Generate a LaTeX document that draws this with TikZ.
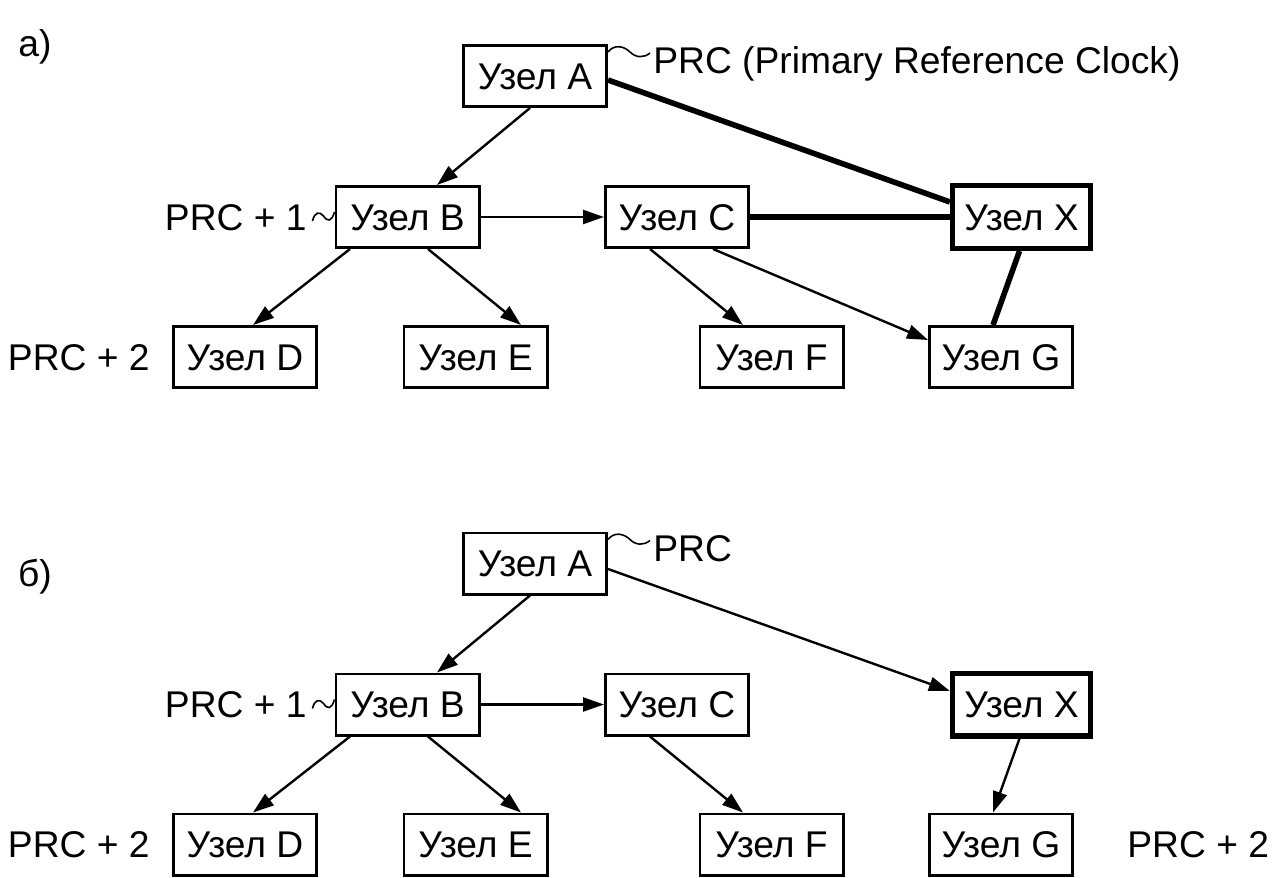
\documentclass[tikz,border=0pt]{standalone}
\usepackage{fontspec}
\setmainfont{Liberation Sans}
\usetikzlibrary{arrows.meta,calc}
\begin{document}
\begin{tikzpicture}[x=0.5pt,y=-0.5pt,
  box/.style={draw,line width=1.4pt,minimum width=71.6pt,minimum height=30.6pt,inner sep=0pt,
    text height=13.2pt,text depth=0pt,font=\fontsize{18.6}{20}\selectfont},
  xbox/.style={box,line width=2.6pt,minimum width=69pt,minimum height=31.4pt},
  lbl/.style={inner sep=0pt,font=\fontsize{18.6}{20}\selectfont},
  arr/.style={line width=1.2pt,-{Triangle[length=10.5pt,width=7pt]}},
  heavy/.style={line width=2.8pt},
  wave/.style={line width=0.8pt}
]
\useasboundingbox (0,0) rectangle (1278,877);

% ---------- panel a ----------
\node[lbl,anchor=base] (la) at (35,57) {а)};
\node[box] (A) at (535,76) {Узел A};
\node[box] (B) at (407.5,217) {Узел B};
\node[box] (C) at (677,217) {Узел C};
\node[xbox] (X) at (1021.5,217) {Узел X};
\node[box] (D) at (245,357) {Узел D};
\node[box] (E) at (475.5,357) {Узел E};
\node[box] (F) at (771.5,357) {Узел F};
\node[box] (G) at (1001,357) {Узел G};

\node[lbl,anchor=base west] (prcA) at (653,74) {PRC (Primary Reference Clock)};
\node[lbl,anchor=base east] (prcB) at (307,230) {PRC + 1};
\node[lbl,anchor=base east] (prcD) at (150,370) {PRC + 2};

\draw[wave] ($(A.north east)+(0,8)$) .. controls ($(A.north east)+(6,0)$) and ($(A.north east)+(16,2)$) .. ($(A.north east)+(22,8)$) .. controls ($(A.north east)+(28,14)$) and ($(A.north east)+(36,14)$) .. ($(A.north east)+(42,9)$);
\draw[wave] ($(B.west)+(-22,4)$) .. controls ($(B.west)+(-20,-5)$) and ($(B.west)+(-15,-6)$) .. ($(B.west)+(-11,-1)$) .. controls ($(B.west)+(-7,5)$) and ($(B.west)+(-3,5)$) .. ($(B.west)+(0,-5)$);

\draw[arr] ($(A.south)+(-5,0)$) -- ($(B.north)+(29.5,0)$);
\draw[arr] (B) -- (C);
\draw[arr] ($(B.south)+(-57.5,0)$) -- ($(D.north)+(8,0)$);
\draw[arr] ($(B.south)+(20.5,0)$) -- ($(E.north)+(45.5,0)$);
\draw[arr] ($(C.south)+(-27,0)$) -- ($(F.north)+(-28.5,0)$);
\draw[arr] ($(C.south)+(36,0)$) -- ($(G.west)+(0,-17)$);
\draw[heavy] ($(A.east)+(0,4)$) -- ($(X.west)+(0,-15)$);
\draw[heavy] (C) -- (X);
\draw[heavy] ($(X.south)+(-2,0)$) -- ($(G.north)+(-8,0)$);

% ---------- panel b ----------
\node[lbl,anchor=base] (lb) at (35,586) {б)};
\node[box] (A2) at (535,563.5) {Узел A};
\node[box] (B2) at (407.5,704.5) {Узел B};
\node[box] (C2) at (677,704.5) {Узел C};
\node[xbox] (X2) at (1021.5,704.5) {Узел X};
\node[box] (D2) at (245,844.5) {Узел D};
\node[box] (E2) at (475.5,844.5) {Узел E};
\node[box] (F2) at (771.5,844.5) {Узел F};
\node[box] (G2) at (1001,844.5) {Узел G};

\node[lbl,anchor=base west] (prcA2) at (653,561.5) {PRC};
\node[lbl,anchor=base east] (prcB2) at (307,717.5) {PRC + 1};
\node[lbl,anchor=base east] (prcD2) at (150,857.5) {PRC + 2};
\node[lbl,anchor=base west] (prcG2) at (1127,857.5) {PRC + 2};

\draw[wave] ($(A2.north east)+(0,8)$) .. controls ($(A2.north east)+(6,0)$) and ($(A2.north east)+(16,2)$) .. ($(A2.north east)+(22,8)$) .. controls ($(A2.north east)+(28,14)$) and ($(A2.north east)+(36,14)$) .. ($(A2.north east)+(42,9)$);
\draw[wave] ($(B2.west)+(-22,4)$) .. controls ($(B2.west)+(-20,-5)$) and ($(B2.west)+(-15,-6)$) .. ($(B2.west)+(-11,-1)$) .. controls ($(B2.west)+(-7,5)$) and ($(B2.west)+(-3,5)$) .. ($(B2.west)+(0,-5)$);

\draw[arr] ($(A2.south)+(-5,0)$) -- ($(B2.north)+(29.5,0)$);
\draw[arr] (B2) -- (C2);
\draw[arr] ($(B2.south)+(-57.5,0)$) -- ($(D2.north)+(8,0)$);
\draw[arr] ($(B2.south)+(20.5,0)$) -- ($(E2.north)+(45.5,0)$);
\draw[arr] ($(C2.south)+(-27,0)$) -- ($(F2.north)+(-28.5,0)$);
\draw[arr] ($(A2.east)+(0,5.5)$) -- ($(X2.west)+(0,-13.5)$);
\draw[arr] ($(X2.south)+(-2,0)$) -- ($(G2.north)+(-8,0)$);
\end{tikzpicture}
\end{document}
